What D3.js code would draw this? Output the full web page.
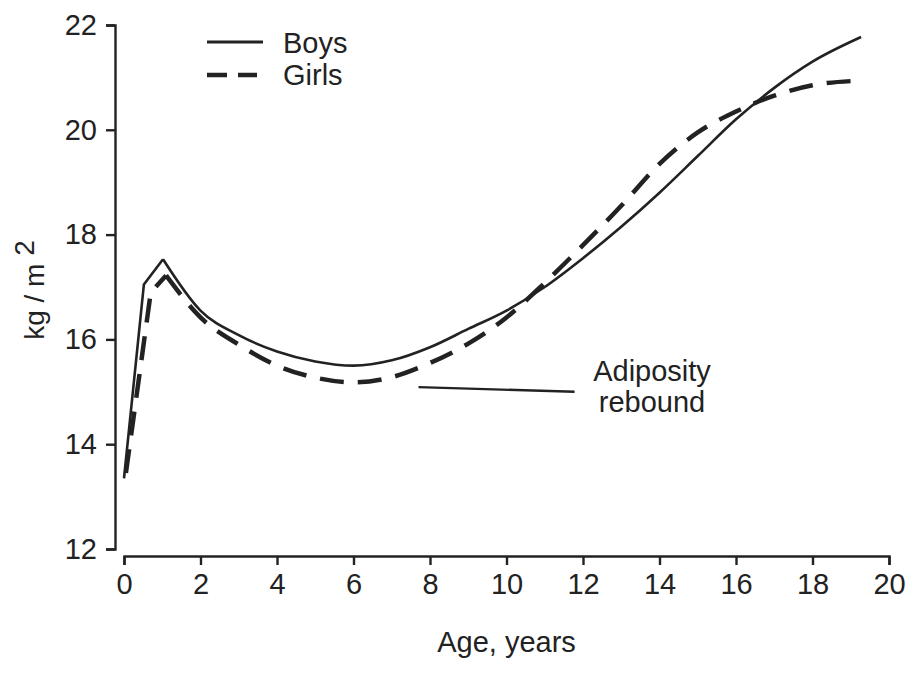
<!DOCTYPE html>
<html>
<head>
<meta charset="utf-8">
<script src="https://cdn.jsdelivr.net/npm/d3@7"></script>
<style>
  body { margin: 0; background: #fff; }
  text { font-family: "Liberation Sans", Arial, sans-serif; fill: #222; }
</style>
</head>
<body>
<script>
// data
var boysAge = [0, 0.52, 1.02, 2, 3, 4, 5, 6, 7, 8, 9, 10, 11, 12, 13, 14, 15, 16, 17, 18, 19.27];
var boysBmi = [13.35, 17.05, 17.53, 16.55, 16.08, 15.77, 15.58, 15.5, 15.6, 15.85, 16.2, 16.55, 17.0, 17.55, 18.15, 18.8, 19.5, 20.2, 20.8, 21.3, 21.77];
var girlsAge = [0.05, 0.7, 1.1, 2, 3, 4, 5, 6, 7, 8, 9, 10, 11, 12, 13, 14, 15, 16, 17, 18, 19.3];
var girlsBmi = [13.45, 16.9, 17.22, 16.42, 15.9, 15.5, 15.27, 15.18, 15.28, 15.55, 15.92, 16.42, 17.08, 17.8, 18.55, 19.35, 19.95, 20.35, 20.65, 20.85, 20.94];
var xTicks = [0, 2, 4, 6, 8, 10, 12, 14, 16, 18, 20];
var yTicks = [12, 14, 16, 18, 20, 22];
var legendLabels = ["Boys", "Girls"];
var noteText = ["Adiposity", "rebound"];
var noteLine = [[7.7, 15.09], [11.78, 15.0]];

var svgWidth = 910;
var svgHeight = 691;
var ink = "#222";

var svg = d3.select("body")
  .append("svg")
  .attr("width", svgWidth)
  .attr("height", svgHeight);

var xScale = d3.scaleLinear().domain([0, 20]).range([124, 889]);
var yScale = d3.scaleLinear().domain([12, 22]).range([549, 25]);

var xAxis = d3.axisBottom(xScale).tickValues(xTicks).tickSize(9).tickSizeOuter(9).tickPadding(8);
var yAxis = d3.axisLeft(yScale).tickValues(yTicks).tickSize(9).tickSizeOuter(9).tickPadding(9);

var gx = svg.append("g")
  .attr("transform", "translate(0,556)")
  .call(xAxis);
var gy = svg.append("g")
  .attr("transform", "translate(115,0)")
  .call(yAxis);

[gx, gy].forEach(function(g) {
  g.selectAll("path, line").attr("stroke", ink).attr("stroke-width", 2.4);
  g.selectAll("text")
    .attr("fill", ink)
    .style("font-size", "29px")
    .style("font-family", "'Liberation Sans', Arial, sans-serif");
});

// axis titles
svg.append("text")
  .attr("x", xScale(10))
  .attr("y", 652)
  .attr("text-anchor", "middle")
  .style("font-size", "29px")
  .text("Age, years");

var yt = svg.append("text")
  .attr("transform", "translate(44,290) rotate(-90)")
  .attr("text-anchor", "middle")
  .style("font-size", "28px");
yt.append("tspan").text("kg / m ");
yt.append("tspan").attr("dy", -10).text("2");

// curves
var boys = boysAge.map(function(a, i) { return [a, boysBmi[i]]; });
var girls = girlsAge.map(function(a, i) { return [a, girlsBmi[i]]; });

function drawSeries(pts, peakIdx, style) {
  var lin = d3.line().x(d => xScale(d[0])).y(d => yScale(d[1])).curve(d3.curveLinear);
  var smooth = d3.line().x(d => xScale(d[0])).y(d => yScale(d[1])).curve(d3.curveMonotoneX);
  var p1 = svg.append("path").attr("d", lin(pts.slice(0, peakIdx + 1)));
  var p2 = svg.append("path").attr("d", smooth(pts.slice(peakIdx)));
  [p1, p2].forEach(function(p) {
    p.attr("fill", "none")
      .attr("stroke", ink)
      .attr("stroke-width", style.width)
      .attr("stroke-linejoin", "miter")
      .attr("stroke-dasharray", style.dash);
  });
}

drawSeries(girls, 2, { width: 4.5, dash: "24,14" });
drawSeries(boys, 2, { width: 2.6, dash: null });

// legend
var legend = svg.append("g");
legend.append("line")
  .attr("x1", 207).attr("x2", 263).attr("y1", 42).attr("y2", 42)
  .attr("stroke", ink).attr("stroke-width", 2.8);
legend.append("line")
  .attr("x1", 207).attr("x2", 257).attr("y1", 75).attr("y2", 75)
  .attr("stroke", ink).attr("stroke-width", 4.5)
  .attr("stroke-dasharray", "20,11");
legend.selectAll("text.lg")
  .data(legendLabels)
  .enter()
  .append("text")
  .attr("class", "lg")
  .attr("x", 283)
  .attr("y", (d, i) => 53 + i * 32)
  .style("font-size", "29px")
  .text(d => d);

// annotation
svg.append("line")
  .attr("x1", xScale(noteLine[0][0])).attr("y1", yScale(noteLine[0][1]))
  .attr("x2", xScale(noteLine[1][0])).attr("y2", yScale(noteLine[1][1]))
  .attr("stroke", ink).attr("stroke-width", 2.4);
svg.selectAll("text.note")
  .data(noteText)
  .enter()
  .append("text")
  .attr("class", "note")
  .attr("x", 652)
  .attr("y", (d, i) => 381 + i * 31)
  .attr("text-anchor", "middle")
  .style("font-size", "29px")
  .text(d => d);
</script>
</body>
</html>
